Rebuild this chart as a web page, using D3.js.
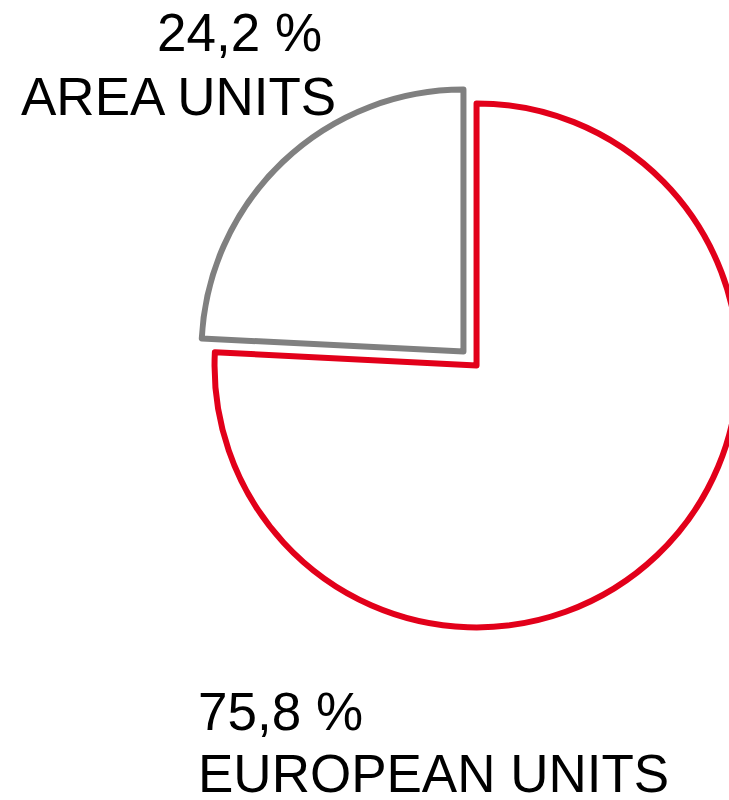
<!DOCTYPE html>
<html>
<head>
<meta charset="utf-8">
<script src="https://cdn.jsdelivr.net/npm/d3@7"></script>
<style>
  html, body { margin: 0; padding: 0; background: #fff; }
  svg { display: block; }
</style>
</head>
<body>
<div id="chart"></div>
<script>
// data
var categories = ["EUROPEAN UNITS", "AREA UNITS"];
var values = [75.8, 24.2];
var valueLabels = ["75,8 %", "24,2 %"];
var colors = ["#e2001a", "#808080"];

var width = 729, height = 800;
var cx = 470, cy = 358.5, radius = 262, explode = 9.5;

var svg = d3.select("#chart").append("svg")
  .attr("width", width)
  .attr("height", height);

var pie = d3.pie().sort(null).value(function(d) { return d; });
var arc = d3.arc().innerRadius(0).outerRadius(radius);
var arcs = pie(values);

svg.append("g")
  .attr("transform", "translate(" + cx + "," + cy + ")")
  .selectAll("path")
  .data(arcs)
  .enter().append("path")
  .attr("d", arc)
  .attr("transform", function(d) {
    var mid = (d.startAngle + d.endAngle) / 2;
    return "translate(" + (Math.sin(mid) * explode) + "," + (-Math.cos(mid) * explode) + ")";
  })
  .attr("fill", "#fff")
  .attr("stroke", function(d, i) { return colors[i]; })
  .attr("stroke-width", 6)
  .attr("stroke-linejoin", "round");

// label positions (outside the pie, one per slice)
var labelPos = [
  {x: 198, y1: 730, y2: 792},
  {x: 21, y1: 51, y2: 115, xv: 157}
];

var labels = svg.append("g")
  .attr("font-family", "'Liberation Sans', Arial, sans-serif")
  .attr("font-size", 53)
  .attr("fill", "#000");

categories.forEach(function(c, i) {
  var p = labelPos[i];
  labels.append("text")
    .attr("x", p.xv !== undefined ? p.xv : p.x)
    .attr("y", p.y1)
    .text(valueLabels[i]);
  labels.append("text")
    .attr("x", p.x)
    .attr("y", p.y2)
    .text(c);
});
</script>
</body>
</html>
